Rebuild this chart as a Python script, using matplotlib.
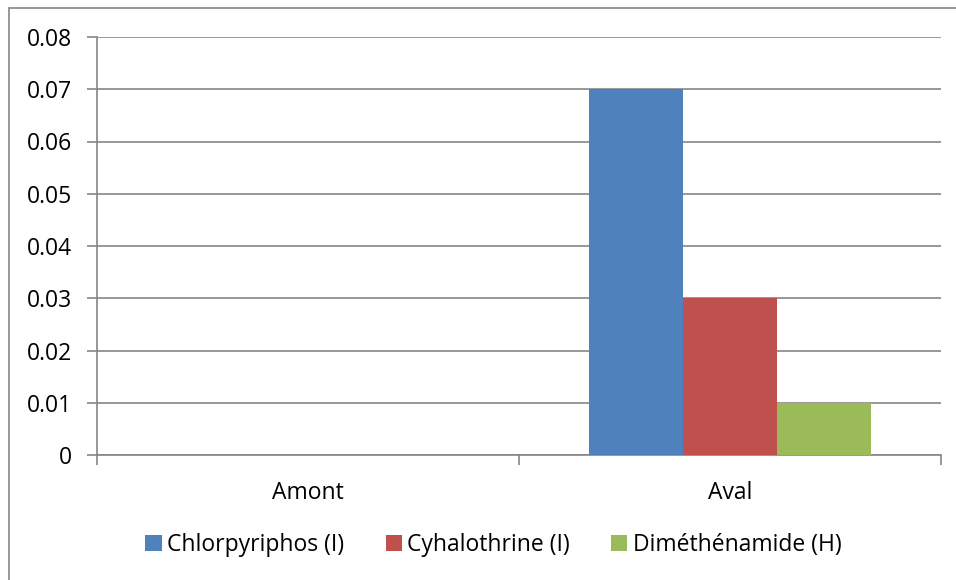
import matplotlib
matplotlib.use("Agg")
import matplotlib.pyplot as plt
import numpy as np
from matplotlib.patches import Rectangle

categories = ["Amont", "Aval"]
series_names = ["Chlorpyriphos (I)", "Cyhalothrine (I)", "Diméthénamide (H)"]
chlorpyriphos = [0.0, 0.07]
cyhalothrine = [0.0, 0.03]
dimethenamide = [0.0, 0.01]
yticks = [0, 0.01, 0.02, 0.03, 0.04, 0.05, 0.06, 0.07, 0.08]
ytick_labels = ["0", "0.01", "0.02", "0.03", "0.04", "0.05", "0.06", "0.07", "0.08"]
colors = ["#4F81BD", "#C0504D", "#9BBB59"]

plt.rcParams['font.family'] = ['Open Sans', 'DejaVu Sans']
FS = 16.5
fig = plt.figure(figsize=(9.56, 5.8), dpi=100)
ax = fig.add_axes([97/956, 1-455/580, (941-97)/956, (455-37)/580])

# figure border
fig.patches.append(Rectangle((9/956, -0.1), 1.2, (580-8)/580 + 0.1,
                             transform=fig.transFigure, fill=False,
                             edgecolor="#868686", linewidth=1.2))

x = np.arange(len(categories))
w = 1/4.5
for i, (vals, name) in enumerate(zip([chlorpyriphos, cyhalothrine, dimethenamide], series_names)):
    ax.bar(x + (i-1)*w, vals, width=w, color=colors[i], label=name, zorder=3)

ax.set_xlim(-0.5, 1.5)
ax.set_ylim(0, 0.08)
ax.set_yticks(yticks)
ax.set_yticklabels(ytick_labels)
ax.grid(axis='y', color="#868686", linewidth=1.2, zorder=0)
ax.set_axisbelow(True)
for s in ["top", "right"]:
    ax.spines[s].set_visible(False)
for s in ["left", "bottom"]:
    ax.spines[s].set_color("#868686")
    ax.spines[s].set_linewidth(1.2)

ax.set_xticks(x)
ax.set_xticklabels(categories)
ax.tick_params(axis='x', length=0, labelsize=FS, pad=19)
ax.set_xticks([-0.5, 0.5, 1.5], minor=True)
ax.tick_params(axis='x', which='minor', length=7, color="#868686", width=1.2)
ax.tick_params(axis='y', length=7, color="#868686", width=1.2, labelsize=FS, pad=11)

ax.legend(loc='center', bbox_to_anchor=(0.47, -0.215), ncol=3, frameon=False,
          fontsize=FS, handlelength=0.7, handleheight=0.7, handletextpad=0.25,
          columnspacing=1.8, borderpad=0, borderaxespad=0)

fig.savefig("out.png", dpi=100)
